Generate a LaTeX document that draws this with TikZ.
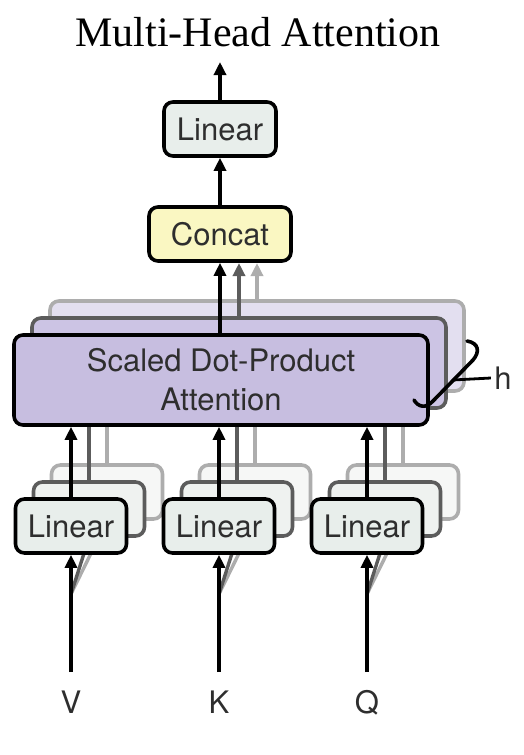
\documentclass[tikz,border=0pt]{standalone}
\usepackage{fontspec}
\setmainfont{Liberation Serif}
\newfontfamily\headfont{TeX Gyre Heros}
\usetikzlibrary{arrows.meta}
\definecolor{txtgray}{HTML}{2E2E2E}
\definecolor{lay1}{HTML}{5C5C5C}
\definecolor{lay2}{HTML}{ADADAD}
\definecolor{lin0}{HTML}{E8EEEB}
\definecolor{lin1}{HTML}{EFF2F0}
\definecolor{lin2}{HTML}{F6F7F6}
\definecolor{sdp0}{HTML}{C7BEE0}
\definecolor{sdp1}{HTML}{CCC4E4}
\definecolor{sdp2}{HTML}{E3DFF0}
\definecolor{catfill}{HTML}{FAF7C2}
\begin{document}
\begin{tikzpicture}[x=1pt,y=-1pt,
  box/.style={draw,line width=3.6pt,rounded corners=9pt,inner sep=0pt,align=center,
    font=\headfont\fontsize{31}{39}\selectfont,text=txtgray},
  linbox/.style={box,minimum width=111pt,minimum height=54pt},
  arr/.style={line width=3.4pt,-{Triangle[length=13pt,width=12pt]}},
  lbl/.style={font=\headfont\fontsize{31}{36}\selectfont,text=txtgray}]
\useasboundingbox (0,0) rectangle (524,755);
\node[font=\fontsize{42}{48}\selectfont] (title) at (258,32) {Multi-Head Attention};
% back copies of the heads
\foreach \k/\bc/\lf/\sf in {2/lay2/lin2/sdp2,1/lay1/lin1/sdp1}{
  \node[box,draw=\bc,fill=\sf,minimum width=414pt,minimum height=90pt] (sdpa\k) at ({221+18*\k},{380-17*\k}) {};
  \draw[arr,color=\bc] (sdpa\k.north) -- (sdpa\k.north |- 0,263);
  \node[linbox,draw=\bc,fill=\lf] (linv\k) at ({71+18*\k},{526-17*\k}) {};
  \node[linbox,draw=\bc,fill=\lf] (link\k) at ({219+18*\k},{526-17*\k}) {};
  \node[linbox,draw=\bc,fill=\lf] (linq\k) at ({367+18*\k},{526-17*\k}) {};
  \draw[arr,color=\bc] (linv\k.north) -- (linv\k.north |- sdpa\k.south);
  \draw[arr,color=\bc] (link\k.north) -- (link\k.north |- sdpa\k.south);
  \draw[arr,color=\bc] (linq\k.north) -- (linq\k.north |- sdpa\k.south);
  \coordinate (splv) at (71,594);
  \coordinate (splk) at (219,594);
  \coordinate (splq) at (367,594);
  \draw[line width=3.4pt,color=\bc] (splv) -- (linv\k.south);
  \draw[line width=3.4pt,color=\bc] (splk) -- (link\k.south);
  \draw[line width=3.4pt,color=\bc] (splq) -- (linq\k.south);
}
% front head
\node[box,fill=sdp0,minimum width=414pt,minimum height=90pt] (sdpa0) at (221,380) {Scaled Dot-Product\\Attention};
\node[linbox,fill=lin0] (linv0) at (71,526) {Linear};
\node[linbox,fill=lin0] (link0) at (219,526) {Linear};
\node[linbox,fill=lin0] (linq0) at (367,526) {Linear};
\node[box,fill=catfill,minimum width=142pt,minimum height=54pt] (concat) at (220,234) {Concat};
\node[box,fill=lin0,minimum width=112pt,minimum height=54pt] (linout) at (220,129) {Linear};
\coordinate (out) at (220,62);
\draw[arr] (linout.north) -- (out);
\draw[arr] (concat.north) -- (linout.south);
\draw[arr] (sdpa0.north -| concat.south) -- (concat.south);
\draw[arr] (linv0.north) -- (linv0.north |- sdpa0.south);
\draw[arr] (link0.north) -- (link0.north |- sdpa0.south);
\draw[arr] (linq0.north) -- (linq0.north |- sdpa0.south);
\node[lbl,anchor=base] (labv) at (71,713) {V};
\node[lbl,anchor=base] (labk) at (219,713) {K};
\node[lbl,anchor=base] (labq) at (367,713) {Q};
\coordinate (inv) at (71,672);
\coordinate (ink) at (219,672);
\coordinate (inq) at (367,672);
\draw[arr] (inv) -- (linv0.south);
\draw[arr] (ink) -- (link0.south);
\draw[arr] (inq) -- (linq0.south);
% h brace
\draw[line width=3.6pt,line cap=round] (467,341) .. controls (479,343) and (480,352) .. (473,360)
  -- (433,401) .. controls (426,409) and (418,407) .. (414,400);
\coordinate (tick) at (453,380);
\node[lbl] (labh) at (503,378) {h};
\draw[line width=2.8pt] (tick) -- (labh.west);
\end{tikzpicture}
\end{document}
